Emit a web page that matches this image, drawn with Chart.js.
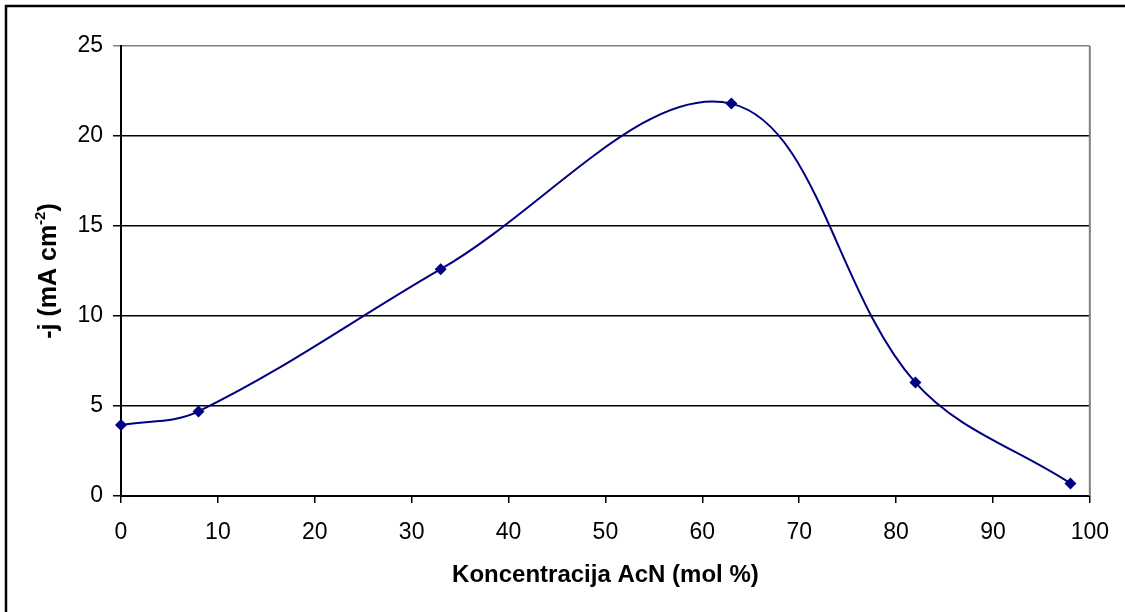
<!DOCTYPE html>
<html>
<head>
<meta charset="utf-8">
<script src="https://cdn.jsdelivr.net/npm/chart.js@4"></script>
<style>
html,body{margin:0;padding:0;background:#fff;}
#wrap{position:relative;width:1125px;height:612px;}
</style>
</head>
<body>
<div id="wrap"><canvas id="c" width="1125" height="612"></canvas></div>
<script>
const concentrations = [0, 8, 33, 63, 82, 98];
const currentDensity = [3.95, 4.7, 12.6, 21.8, 6.3, 0.7];
const xTicks = [0, 10, 20, 30, 40, 50, 60, 70, 80, 90, 100];
const yTicks = [0, 5, 10, 15, 20, 25];
const xTitle = 'Koncentracija AcN (mol %)';
const yTitleMain = '-j (mA cm';
const yTitleSup = '-2';
const yTitleEnd = ')';

const FONT = '"Liberation Sans", Arial, sans-serif';

const decor = {
  id: 'decor',
  beforeDraw(chart) {
    const ctx = chart.ctx;
    ctx.save();
    ctx.fillStyle = '#fff';
    ctx.fillRect(0, 0, chart.width, chart.height);
    ctx.restore();
  },
  afterDraw(chart) {
    const ctx = chart.ctx;
    const a = chart.chartArea;
    ctx.save();
    ctx.strokeStyle = '#000';
    ctx.lineWidth = 2.5;
    ctx.beginPath();
    ctx.moveTo(6, 612);
    ctx.lineTo(6, 6);
    ctx.lineTo(1125, 6);
    ctx.stroke();
    ctx.strokeStyle = '#808080';
    ctx.lineWidth = 2;
    ctx.beginPath();
    ctx.moveTo(a.right, a.top);
    ctx.lineTo(a.right, a.bottom);
    ctx.stroke();
    ctx.translate(49, (a.top + a.bottom) / 2);
    ctx.rotate(-Math.PI / 2);
    ctx.fillStyle = '#000';
    ctx.textBaseline = 'middle';
    const big = 'bold 25px ' + FONT;
    const small = 'bold 15px ' + FONT;
    ctx.font = big;
    const w1 = ctx.measureText(yTitleMain).width;
    const w3 = ctx.measureText(yTitleEnd).width;
    ctx.font = small;
    const w2 = ctx.measureText(yTitleSup).width;
    let x = -(w1 + w2 + w3) / 2;
    ctx.font = big;
    ctx.textAlign = 'left';
    ctx.fillText(yTitleMain, x, 0);
    x += w1;
    ctx.font = small;
    ctx.fillText(yTitleSup, x, -8);
    x += w2;
    ctx.font = big;
    ctx.fillText(yTitleEnd, x, 0);
    ctx.restore();
  }
};

new Chart(document.getElementById('c'), {
  type: 'line',
  data: {
    datasets: [{
      data: concentrations.map((c, i) => ({x: c, y: currentDensity[i]})),
      borderColor: '#000080',
      backgroundColor: '#000080',
      borderWidth: 2,
      pointStyle: 'rectRot',
      pointRadius: 6,
      pointBorderWidth: 0,
      tension: 0.36,
      cubicInterpolationMode: 'default',
      clip: false
    }]
  },
  options: {
    responsive: false,
    animation: false,
    devicePixelRatio: 1,
    layout: {padding: {left: 0, right: 33, top: 46, bottom: 0}},
    plugins: {legend: {display: false}, tooltip: {enabled: false}},
    scales: {
      x: {
        type: 'linear',
        min: 0, max: 100,
        afterBuildTicks(s) { s.ticks = xTicks.map(v => ({value: v})); },
        afterFit(s) { s.height = 612 - 496; },
        ticks: {color: '#000', font: {family: FONT, size: 23}, padding: 16, maxRotation: 0},
        grid: {drawOnChartArea: false, drawTicks: true, tickLength: 7, color: '#000', lineWidth: 1.5},
        border: {color: '#000', width: 2},
        title: {display: true, text: xTitle, color: '#000', font: {family: FONT, size: 24, weight: 'bold'}, padding: {top: 0, bottom: 22}}
      },
      y: {
        min: 0, max: 25,
        afterBuildTicks(s) { s.ticks = yTicks.map(v => ({value: v})); },
        afterFit(s) { s.width = 121; },
        ticks: {color: '#000', font: {family: FONT, size: 23}, padding: 10},
        grid: {
          drawTicks: true, tickLength: 8,
          color: c => c.tick && c.tick.value === 25 ? '#808080' : '#000',
          lineWidth: 1.5
        },
        border: {color: '#000', width: 2}
      }
    }
  },
  plugins: [decor]
});
</script>
</body>
</html>
